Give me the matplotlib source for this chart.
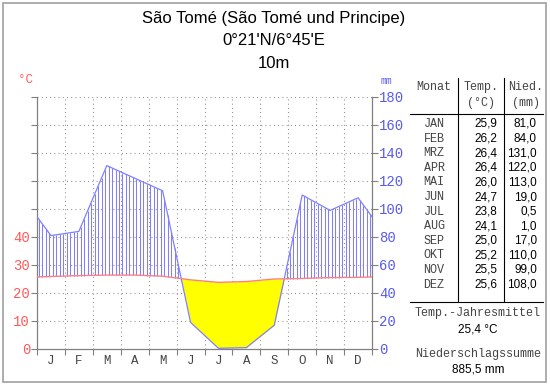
"Walter-Lieth climate diagram for Sao Tome."

import numpy as np
import matplotlib.pyplot as plt
from matplotlib.lines import Line2D
from matplotlib.patches import Rectangle

title_lines = ["São Tomé (São Tomé und Principe)", "0°21'N/6°45'E", "10m"]
months = ["JAN", "FEB", "MRZ", "APR", "MAI", "JUN", "JUL", "AUG", "SEP", "OKT", "NOV", "DEZ"]
month_letters = ["J", "F", "M", "A", "M", "J", "J", "A", "S", "O", "N", "D"]
temp = [25.9, 26.2, 26.4, 26.4, 26.0, 24.7, 23.8, 24.1, 25.0, 25.2, 25.5, 25.6]
precip = [81.0, 84.0, 131.0, 122.0, 113.0, 19.0, 0.5, 1.0, 17.0, 110.0, 99.0, 108.0]
temp_mean = "25,4 °C"
precip_sum = "885,5 mm"
mm_ticks = [0, 20, 40, 60, 80, 100, 120, 140, 160, 180]
temp_labels = ["0", "10", "20", "30", "40", "", "", "", "", ""]

MONO = "Liberation Mono"
SANS = "Liberation Sans"
RED = "#ff5a5a"
BLUE = "#5a5aee"
LINE_T = "#ff8080"
LINE_P = "#8080ff"
GRAY = "#808080"
TXT = "#444444"

W, H = 550, 384


def px(x, y):
    return x / W, 1 - y / H


def de(v):
    return f"{v:.1f}".replace(".", ",")


fig = plt.figure(figsize=(W / 100, H / 100), dpi=100)
ax = fig.add_axes([37 / W, 1 - 349 / H, (372 - 37) / W, (349 - 97) / H])

# wrap december/january around the edges
xs = np.arange(-0.5, 13.0, 1.0)
t2 = np.array([temp[-1]] + temp + [temp[0]]) * 2
pp = np.array([precip[-1]] + precip + [precip[0]])

xf = np.linspace(0, 12, 1201)
tf = np.interp(xf, xs, t2)
pf = np.interp(xf, xs, pp)
ax.fill_between(xf, pf, tf, where=pf < tf, color="#ffff00", lw=0, zorder=2)

# humid period: vertical hatch between temperature and rain
xh = np.arange(0, 12, 1 / 8) + 1 / 16
th = np.interp(xh, xs, t2)
ph = np.interp(xh, xs, pp)
m = ph > th
ax.vlines(xh[m], th[m], ph[m], color=LINE_P, lw=0.75, zorder=3)

ax.plot(xs, pp, color=LINE_P, lw=0.9, zorder=4)
ax.plot(xs, t2, color=LINE_T, lw=1.0, zorder=5)

ax.set_xlim(0, 12)
ax.set_ylim(0, 180)
for g in range(1, 12):
    ax.axvline(g, color=GRAY, lw=0.8, ls=(0, (0.8, 3)), zorder=1)
for g in mm_ticks[1:]:
    ax.axhline(g, color=GRAY, lw=0.8, ls=(0, (0.8, 3)), zorder=1)

ax.spines["top"].set_visible(False)
for s in ["left", "right", "bottom"]:
    ax.spines[s].set_color(GRAY)
    ax.spines[s].set_linewidth(0.9)

ax.set_xticks(range(0, 13))
ax.set_xticklabels([])
ax.set_xticks(np.arange(0.5, 12, 1), minor=True)
ax.set_xticklabels(month_letters, minor=True, fontfamily=MONO, fontsize=9, color=TXT)
ax.tick_params(axis="x", which="major", length=4, color=GRAY, direction="out")
ax.tick_params(axis="x", which="minor", length=0, pad=4)

ax.set_yticks(mm_ticks)
ax.set_yticklabels(temp_labels, fontfamily=MONO, fontsize=10, color=RED)
ax.tick_params(axis="y", length=4, color=GRAY, pad=1)

ax2 = ax.twinx()
ax2.set_ylim(0, 180)
ax2.set_yticks(mm_ticks)
ax2.set_yticklabels([str(v) for v in mm_ticks], fontfamily=MONO, fontsize=10, color=BLUE)
ax2.tick_params(axis="y", length=4, color=GRAY, pad=1)
for s in ax2.spines.values():
    s.set_visible(False)

fig.text(*px(26, 80), "°C", color=RED, fontfamily=MONO, fontsize=9, ha="center", va="center")
fig.text(*px(386, 81), "mm", color=BLUE, fontfamily=MONO, fontsize=7, ha="center", va="center")

for i, line in enumerate(title_lines):
    fig.text(*px(274, 18 + 22.5 * i), line, fontfamily=SANS, fontsize=12, ha="center", va="center")


# table on the right
def hline(y, x0, x1):
    fig.add_artist(Line2D([x0 / W, x1 / W], [1 - y / H, 1 - y / H], color="black", lw=0.8))


def vline(x, y0, y1):
    fig.add_artist(Line2D([x / W, x / W], [1 - y0 / H, 1 - y1 / H], color="black", lw=0.8))


vline(458, 78, 301)
vline(504, 78, 301)
hline(114, 410, 543)
hline(302, 410, 543)

mono = dict(fontfamily=MONO, fontsize=8.5, ha="center", va="center", color=TXT)
fig.text(*px(434, 87), "Monat", **mono)
fig.text(*px(481, 87), "Temp.", **mono)
fig.text(*px(481, 103), "(°C)", **mono)
fig.text(*px(526, 87), "Nied.", **mono)
fig.text(*px(526, 103), "(mm)", **mono)

for i, (mo, t, p) in enumerate(zip(months, temp, precip)):
    y = 124 + 14.6 * i
    fig.text(*px(434, y), mo, **mono)
    fig.text(*px(497, y), de(t), fontfamily=SANS, fontsize=8.5, ha="right", va="center")
    fig.text(*px(537, y), de(p), fontfamily=SANS, fontsize=8.5, ha="right", va="center")

fig.text(*px(478, 313), "Temp.-Jahresmittel", **mono)
fig.text(*px(478, 329), temp_mean, fontfamily=SANS, fontsize=8.5, ha="center", va="center")
fig.text(*px(478, 354), "Niederschlagssumme", **mono)
fig.text(*px(478, 370), precip_sum, fontfamily=SANS, fontsize=8.5, ha="center", va="center")

fig.add_artist(Rectangle((2.5 / W, 1 - 381.5 / H), 543 / W, 379 / H, fill=False,
                         edgecolor="#a0a0a0", lw=1.2, transform=fig.transFigure))

fig.savefig("out.png", dpi=100)
